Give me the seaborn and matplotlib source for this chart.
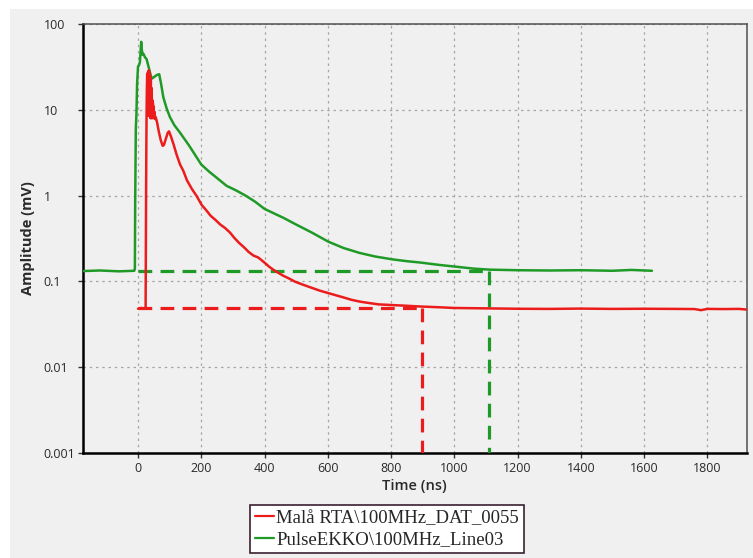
import matplotlib
matplotlib.use("Agg")
import matplotlib.pyplot as plt
import seaborn as sns
import pandas as pd
from matplotlib.patches import Rectangle

# Received amplitude envelopes of two 100 MHz GPR systems (time in ns, amplitude in mV)
mala_time = [0, 10, 20, 24, 25, 26, 27, 28, 29, 30, 30.5, 31, 31.5, 32, 32.5, 33, 33.5,
             34, 34.5, 35, 35.5, 36, 36.5, 37, 37.5, 38, 38.5, 39, 39.5, 40, 40.5, 41,
             41.5, 42, 42.5, 43, 43.5, 44, 45, 46, 47, 48, 49, 50, 52, 54, 56, 60, 66,
             72, 78, 82, 88, 94, 98, 104,
             112, 122, 133, 143, 155, 170, 186, 201, 215, 230, 245, 260, 275, 291, 305,
             320, 335, 350, 365, 380, 392, 402, 415, 430, 445, 460, 480, 497, 520, 550,
             575, 602, 625, 650, 675, 703, 730, 760, 803, 850, 892, 950, 1000, 1100,
             1200, 1300, 1400, 1500, 1600, 1700, 1760, 1780, 1800, 1850, 1900, 1924]
mala_amp = [0.048, 0.049, 0.048, 0.050, 0.4, 2.5, 9, 18, 26, 12, 27, 9, 25, 11, 28, 8.5,
            24, 10, 29, 9, 22, 12, 27, 8.5, 20, 10, 25, 8, 19, 9.5, 22, 8, 17, 9, 18,
            8, 15, 9, 13, 8, 12, 8.5, 11, 8, 9.5, 7.8, 8.2, 7.2, 5.5, 4.4, 3.8, 3.9,
            4.6, 5.4, 5.6, 4.9, 4.0, 3.0, 2.3, 1.95, 1.5, 1.2, 0.98, 0.78, 0.68, 0.58,
            0.52, 0.46, 0.42, 0.37, 0.32, 0.28, 0.25, 0.22, 0.20, 0.19, 0.175, 0.163,
            0.148, 0.135, 0.125, 0.116, 0.107, 0.099, 0.092, 0.084, 0.078, 0.073, 0.069,
            0.065, 0.061, 0.058, 0.056, 0.054, 0.053, 0.052, 0.051, 0.050, 0.049,
            0.0485, 0.048, 0.0478, 0.0482, 0.0478, 0.048, 0.0478, 0.0476, 0.0462,
            0.0478, 0.0476, 0.0478, 0.0470]

ekko_time = [-174, -120, -60, -12, -10, -9, -7, -5, -3, 0, 3, 6, 8, 10, 12, 14, 17, 22,
             27, 35, 43, 50, 59, 67, 73, 80, 90, 101, 115, 133, 160, 180, 200, 225, 250,
             280, 310, 340, 370, 400, 430, 460, 500, 550, 602, 650, 700, 750, 803, 850,
             892, 950, 1008, 1060, 1114, 1200, 1300, 1400, 1500, 1560, 1625]
ekko_amp = [0.132, 0.134, 0.131, 0.133, 0.14, 0.8, 6, 9, 20, 32, 33, 36, 48, 62, 50, 44,
            45, 41, 39, 30, 23, 24, 25.4, 26, 20, 14, 10.5, 8.2, 6.6, 5.4, 3.9, 3.0, 2.3,
            1.9, 1.6, 1.3, 1.15, 1.0, 0.85, 0.70, 0.62, 0.55, 0.46, 0.37, 0.29, 0.245,
            0.215, 0.195, 0.181, 0.172, 0.166, 0.156, 0.148, 0.141, 0.137, 0.135, 0.134,
            0.135, 0.133, 0.136, 0.133]

# Noise floor level and the time at which each trace reaches it
mala_floor, mala_reach = 0.049, 898
ekko_floor, ekko_reach = 0.132, 1110

series_labels = ["Malå RTA\\100MHz_DAT_0055", "PulseEKKO\\100MHz_Line03"]
x_ticks = [0, 200, 400, 600, 800, 1000, 1200, 1400, 1600, 1800]
y_ticks = [0.001, 0.01, 0.1, 1, 10, 100]
y_tick_labels = ["0.001", "0.01", "0.1", "1", "10", "100"]

RED = "#ec1c1c"
GREEN = "#1f9a26"
PANEL = "#f0f0f0"

sns.set_style("ticks")
plt.rcParams["font.family"] = ["Open Sans", "DejaVu Sans"]

fig = plt.figure(figsize=(7.53, 5.58), dpi=100, facecolor="white")
fig.patches.append(Rectangle((10 / 753, 0), 1, 1 - 9 / 558, transform=fig.transFigure,
                             facecolor=PANEL, edgecolor="none", zorder=-10))
ax = fig.add_axes([83 / 753, 1 - 453 / 558, (746.5 - 83) / 753, (453 - 24) / 558])
ax.set_facecolor(PANEL)

mala = pd.DataFrame({"t": mala_time, "a": mala_amp, "src": series_labels[0]})
ekko = pd.DataFrame({"t": ekko_time, "a": ekko_amp, "src": series_labels[1]})

# Noise-floor guides
guide = dict(lw=2.3, linestyle=(0, (4.3, 2.6)), zorder=3)
ax.plot([0, mala_reach], [mala_floor, mala_floor], color=RED, **guide)
ax.plot([mala_reach, mala_reach], [mala_floor, 0.001], color=RED, **guide)
ax.plot([0, ekko_reach], [ekko_floor, ekko_floor], color=GREEN, **guide)
ax.plot([ekko_reach, ekko_reach], [ekko_floor, 0.001], color=GREEN, **guide)

sns.lineplot(data=ekko, x="t", y="a", ax=ax, color=GREEN, lw=1.8, sort=False,
             estimator=None, label=series_labels[1], zorder=4)
sns.lineplot(data=mala, x="t", y="a", ax=ax, color=RED, lw=1.8, sort=False,
             estimator=None, label=series_labels[0], zorder=5)

ax.set_yscale("log")
ax.set_xlim(-174, 1924)
ax.set_ylim(0.001, 100)
ax.set_xticks(x_ticks)
ax.set_xticklabels([str(v) for v in x_ticks])
ax.set_yticks(y_ticks)
ax.set_yticklabels(y_tick_labels)
ax.minorticks_off()

ax.grid(True, which="major", color="#a6a6a6", linestyle=(0, (2, 3)), lw=0.9)
ax.set_axisbelow(True)

for side in ("left", "bottom"):
    ax.spines[side].set_color("black")
    ax.spines[side].set_linewidth(1.8)
for side in ("top", "right"):
    ax.spines[side].set_visible(True)
    ax.spines[side].set_color("#505050")
    ax.spines[side].set_linewidth(1.1)

ax.tick_params(axis="both", length=3.5, width=1, color="#333333",
               labelsize=9, labelcolor="#2a2a2a")
ax.tick_params(axis="x", pad=3)
ax.tick_params(axis="y", pad=25)
for lbl in ax.get_yticklabels():
    lbl.set_horizontalalignment("left")

ax.set_xlabel("Time (ns)", fontsize=10.5, fontweight="semibold", color="#2a2a2a",
              labelpad=3)
ax.set_ylabel("Amplitude (mV)", fontsize=10.5, fontweight="bold", color="#2a2a2a",
              labelpad=6)

handles, labels = ax.get_legend_handles_labels()
order = [labels.index(series_labels[0]), labels.index(series_labels[1])]
ax.legend_.remove()
leg = fig.legend([handles[i] for i in order], [labels[i] for i in order],
                 loc="upper center", bbox_to_anchor=(0.514, 1 - 505 / 558),
                 prop={"family": "Liberation Serif", "size": 13.5},
                 frameon=True, fancybox=False, framealpha=1, facecolor="white",
                 edgecolor="#3a2030", handlelength=1.0, handletextpad=0.15,
                 labelspacing=0.25, borderpad=0.25, borderaxespad=0)
leg.get_frame().set_linewidth(1.2)
for line in leg.get_lines():
    line.set_linewidth(1.6)

fig.savefig("out.png", dpi=100, facecolor=fig.get_facecolor())
